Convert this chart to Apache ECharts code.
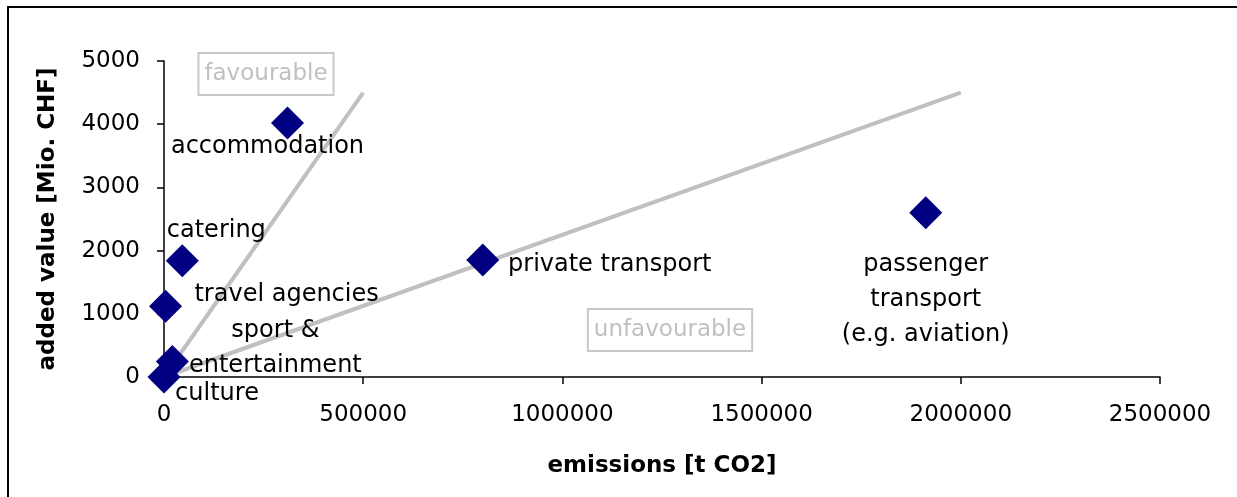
<!DOCTYPE html>
<html>
<head>
<meta charset="utf-8">
<script src="https://cdn.jsdelivr.net/npm/echarts@6/dist/echarts.min.js"></script>
<style>
  html, body { margin: 0; padding: 0; background: #fff; }
  #chart { width: 1237px; height: 497px; }
</style>
</head>
<body>
<div id="chart"></div>
<script>
// Tourism sectors: emissions vs. added value
const sectors = [
  'accommodation',
  'catering',
  'travel agencies',
  'sport &\nentertainment',
  'culture',
  'private transport',
  'passenger\ntransport\n(e.g. aviation)'
];
const emissions = [310000, 46000, 4000, 21000, 0, 800000, 1912000];   // t CO2
const addedValue = [4020, 1840, 1120, 245, 0, 1850, 2600];           // Mio. CHF

// Reference rays separating favourable / unfavourable ratios
const steepLine = [[0, 0], [500000, 4500]];
const flatLine = [[0, 0], [2000000, 4500]];

const xTicks = [0, 500000, 1000000, 1500000, 2000000, 2500000];
const yTicks = [0, 1000, 2000, 3000, 4000, 5000];

// Label placement around each marker (pixels from marker centre)
const labelOffsets = {
  'accommodation': [-20, 24],
  'catering': [34, -30],
  'travel agencies': [121, -11],
  'sport &\nentertainment': [103, -13],
  'culture': [53, 17],
  'private transport': [127, 5],
  'passenger\ntransport\n(e.g. aviation)': [0, 87]
};

const FONT = 'DejaVu Sans';
const chart = echarts.init(document.getElementById('chart'), null, { renderer: 'canvas' });

const points = sectors.map((name, i) => ({
  name: name,
  value: [emissions[i], addedValue[i]],
  label: { offset: labelOffsets[name] }
}));

const boxText = {
  fill: '#c0c0c0',
  font: '23px "DejaVu Sans"',
  stroke: null,
  borderColor: '#c8c8c8',
  borderWidth: 2,
  padding: [10, 6, 9, 6],
  align: 'center',
  verticalAlign: 'middle'
};

const plain = v => String(v);

chart.setOption({
  animation: false,
  backgroundColor: '#fff',
  grid: { left: 164, right: 77, top: 61, bottom: 120, containLabel: false },
  xAxis: {
    type: 'value',
    min: xTicks[0],
    max: xTicks[xTicks.length - 1],
    interval: xTicks[1] - xTicks[0],
    name: 'emissions [t CO2]',
    nameLocation: 'middle',
    nameGap: 78,
    nameTextStyle: { fontFamily: FONT, fontWeight: 'bold', fontSize: 23, color: '#000' },
    axisLine: { show: true, onZero: false, lineStyle: { color: '#000', width: 1.5 } },
    axisTick: { show: true, inside: false, length: 7, lineStyle: { color: '#000', width: 1.5 } },
    axisLabel: { fontFamily: FONT, fontSize: 23, color: '#000', margin: 27, formatter: plain },
    splitLine: { show: false }
  },
  yAxis: {
    type: 'value',
    min: yTicks[0],
    max: yTicks[yTicks.length - 1],
    interval: yTicks[1] - yTicks[0],
    name: 'added value [Mio. CHF]',
    nameLocation: 'middle',
    nameRotate: 90,
    nameGap: 104,
    nameTextStyle: { fontFamily: FONT, fontWeight: 'bold', fontSize: 23, color: '#000' },
    axisLine: { show: true, onZero: false, lineStyle: { color: '#000', width: 1.5 } },
    axisTick: { show: true, inside: false, length: 7, lineStyle: { color: '#000', width: 1.5 } },
    axisLabel: { fontFamily: FONT, fontSize: 23, color: '#000', margin: 24, formatter: plain },
    splitLine: { show: false }
  },
  series: [
    {
      type: 'line',
      data: steepLine,
      symbol: 'none',
      lineStyle: { color: '#c0c0c0', width: 4 },
      silent: true,
      z: 2
    },
    {
      type: 'line',
      data: flatLine,
      symbol: 'none',
      lineStyle: { color: '#c0c0c0', width: 4 },
      silent: true,
      z: 2
    },
    {
      type: 'scatter',
      data: points,
      symbol: 'diamond',
      symbolSize: 33,
      itemStyle: { color: '#000080', opacity: 1 },
      label: {
        show: true,
        position: 'inside',
        formatter: p => p.name,
        fontFamily: FONT,
        fontSize: 24,
        lineHeight: 35,
        color: '#000',
        align: 'center',
        verticalAlign: 'middle'
      },
      z: 3
    }
  ],
  graphic: [
    {
      type: 'rect',
      shape: { x: 8, y: 7, width: 1260, height: 520 },
      style: { fill: null, stroke: '#000', lineWidth: 2 },
      silent: true,
      z: 100
    },
    {
      type: 'text',
      x: 266, y: 74,
      style: Object.assign({ text: 'favourable' }, boxText),
      z: 50
    },
    {
      type: 'text',
      x: 670, y: 330,
      style: Object.assign({ text: 'unfavourable' }, boxText),
      z: 50
    }
  ]
});
</script>
</body>
</html>
